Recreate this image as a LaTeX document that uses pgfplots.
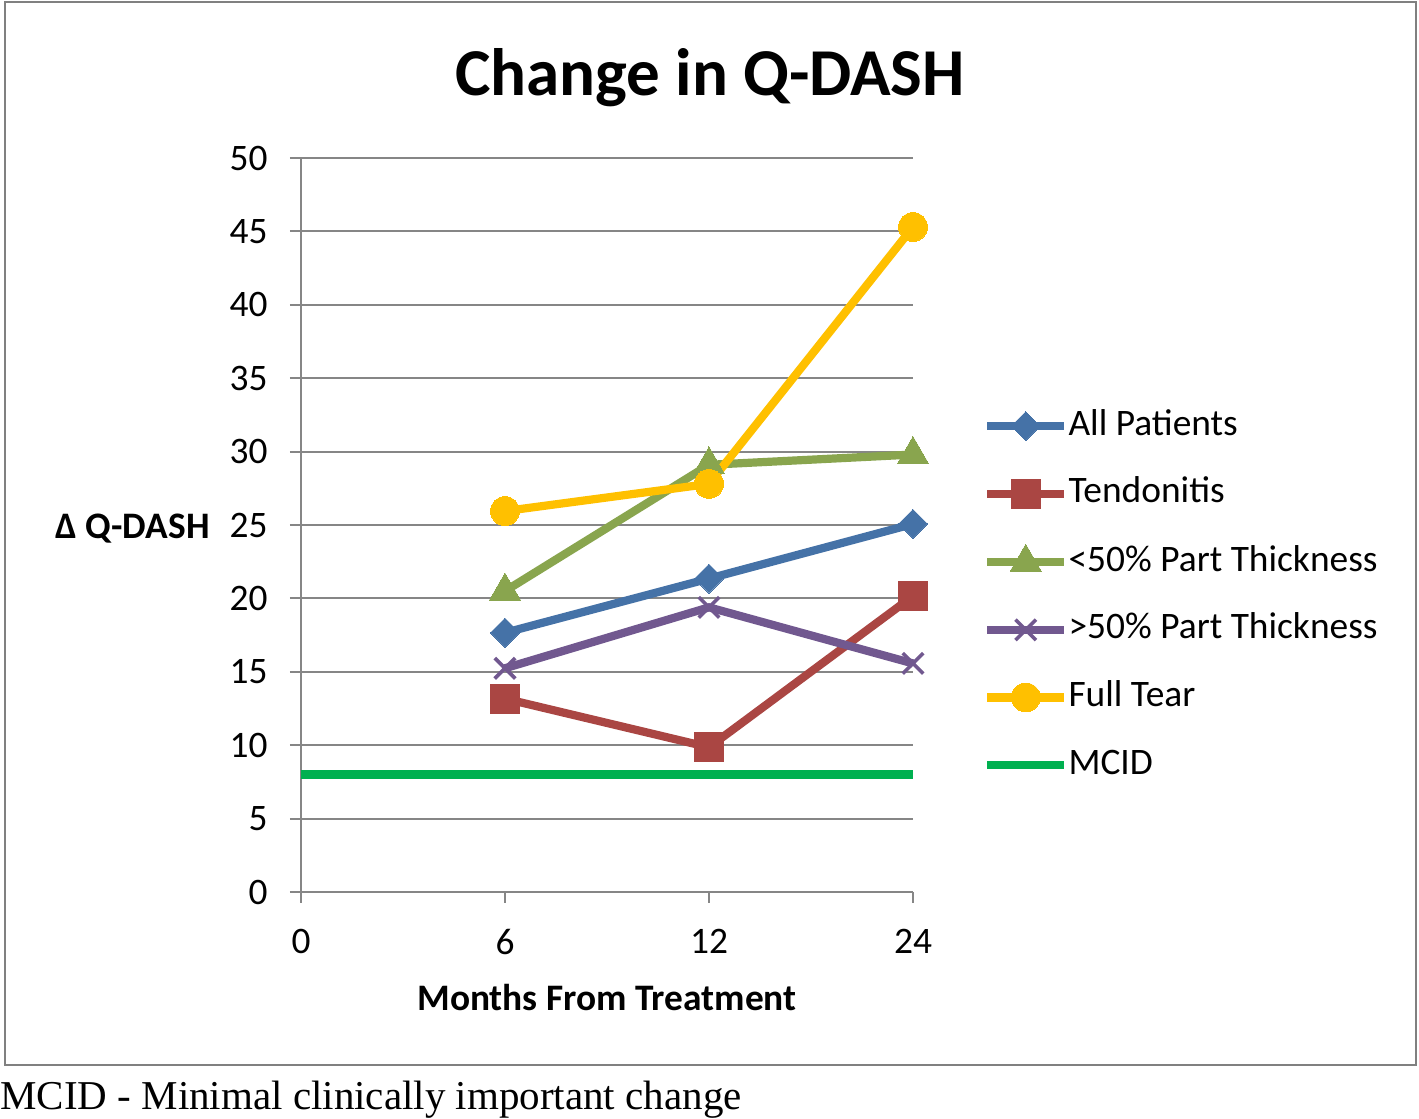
\documentclass[border=0pt]{standalone}
\usepackage{fontspec}
\setmainfont{Carlito}
\newfontfamily\capfont{Liberation Serif}
\usepackage{pgfplots}
\pgfplotsset{compat=1.18}
\definecolor{blueS}{RGB}{69,114,167}
\definecolor{redS}{RGB}{170,70,67}
\definecolor{greenS}{RGB}{137,165,78}
\definecolor{purpleS}{RGB}{113,88,143}
\definecolor{yellowS}{RGB}{255,192,0}
\definecolor{mcidc}{RGB}{0,176,80}
\definecolor{gridc}{RGB}{134,134,134}
\definecolor{framec}{RGB}{128,128,128}
\begin{document}
\begin{tikzpicture}[x=1pt,y=1pt]
\useasboundingbox (-150.5pt,-113.5pt) rectangle (559pt,446pt);
\draw[framec, line width=1.2pt] (-148pt,445pt) rectangle (557.5pt,-86.5pt);
\begin{axis}[
  at={(0pt,0pt)}, anchor=south west,
  scale only axis, width=306pt, height=367pt,
  xmin=0, xmax=3, ymin=0, ymax=50,
  xtick={0,1,2,3}, xticklabels={0,6,12,24},
  ytick={0,5,...,50},
  axis x line*=bottom, axis y line*=left,
  ymajorgrids, grid style={gridc, line width=1pt},
  axis line style={gridc, line width=1pt},
  tick style={gridc, line width=1pt},
  tick align=outside, major tick length=5.5pt,
  ticklabel style={font=\fontsize{18.7}{22}\selectfont},
  /pgf/number format/assume math mode=true,
  xticklabel style={inner sep=0pt, anchor=north, yshift=-13pt},
  yticklabel style={inner sep=0pt, anchor=east, xshift=-11pt},
  clip=false,
  legend style={at={(1.1143,0.658)}, anchor=north west, draw=none, fill=none,
    inner sep=0pt, outer sep=0pt, row sep=16.8pt,
    font=\fontsize{18.7}{22}\selectfont,
    nodes={inner sep=0pt, text height=13pt, text depth=4pt},
    /tikz/every even column/.append style={column sep=3pt}},
  legend cell align=left,
  legend image code/.code={\draw[mark repeat=2,mark phase=2,#1] plot coordinates {(0pt,0pt) (19.25pt,0pt) (38.5pt,0pt)};},
]
\addplot[blueS, line width=4.1pt, mark=square*, mark size=5.13pt, mark options={rotate=45, line width=0pt, fill=blueS}] coordinates {(1,17.66) (2,21.35) (3,25.07)};
\addlegendentry{All Patients}
\addplot[redS, line width=4.1pt, mark=square*, mark size=7.25pt, mark options={line width=0pt, fill=redS}] coordinates {(1,13.17) (2,9.86) (3,20.16)};
\addlegendentry{Tendonitis}
\addplot[greenS, line width=4.1pt, mark=triangle*, mark size=9pt, mark options={line width=0pt, fill=greenS}] coordinates {(1,20.5) (2,29.1) (3,29.8)};
\addlegendentry{<50\% Part Thickness}
\addplot[purpleS, line width=4.1pt, mark=x, mark size=7.25pt, mark options={line width=1.8pt}] coordinates {(1,15.24) (2,19.39) (3,15.57)};
\addlegendentry{>50\% Part Thickness}
\addplot[yellowS, line width=4.1pt, mark=*, mark size=7.2pt, mark options={line width=0pt, fill=yellowS}] coordinates {(1,25.95) (2,27.8) (3,45.3)};
\addlegendentry{Full Tear}
\addplot[mcidc, line width=4.3pt] coordinates {(0,8) (3,8)};
\addlegendentry{MCID}
\end{axis}
\node[anchor=base, font=\fontsize{33.5}{40}\selectfont\bfseries] at (204.5pt,398pt) {Change in Q-DASH};
\node[anchor=base east, inner sep=0pt, font=\fontsize{18.7}{22}\selectfont\bfseries] at (-45.5pt,176.5pt) {Δ Q-DASH};
\node[anchor=base, inner sep=0pt, font=\fontsize{18.7}{22}\selectfont\bfseries] at (153pt,-59pt) {Months From Treatment};
\node[anchor=base west, inner sep=0pt, font=\fontsize{20.5}{24}\selectfont\capfont] at (-150.5pt,-108.5pt) {MCID - Minimal clinically important change};
\end{tikzpicture}
\end{document}
